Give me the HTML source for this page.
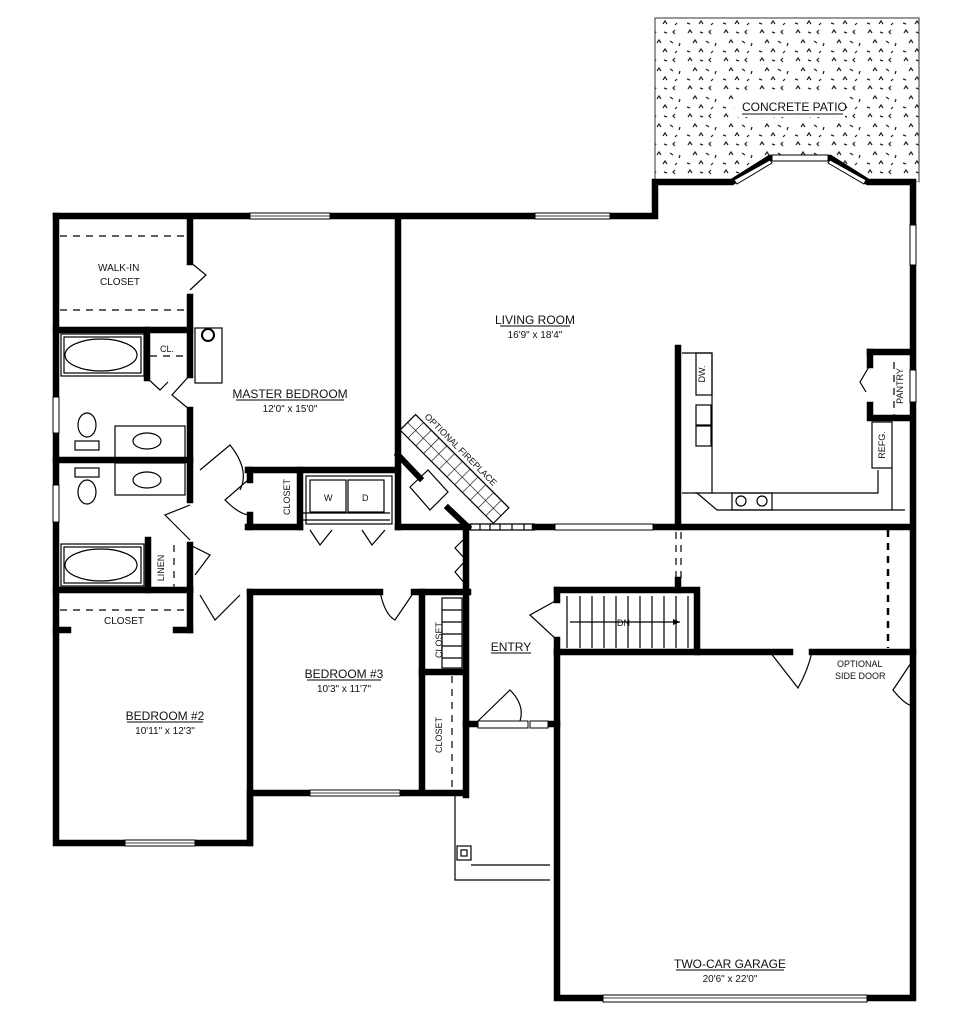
<!DOCTYPE html>
<html><head><meta charset="utf-8"><style>
html,body{margin:0;padding:0;background:#fff;}
svg{display:block;}
text{font-family:"Liberation Sans",sans-serif;fill:#111;}
</style></head><body>
<svg width="970" height="1024" viewBox="0 0 970 1024" xmlns="http://www.w3.org/2000/svg">
<defs>
<pattern id="st" width="36" height="28" patternUnits="userSpaceOnUse">
<g fill="none" stroke="#222" stroke-width="1.2">
<path d="M4 5 l2 -3 l2 3"/><path d="M16 4 l3 1"/><path d="M27 6 l-2 -2 l2 -2"/>
<path d="M9 15 l2 -3 l2 3"/><path d="M22 13 l3 2"/><path d="M31 18 l1 -3"/>
<path d="M3 23 l3 1"/><path d="M15 24 l2 -3 l2 3"/><path d="M27 25 l2 -2"/>
</g></pattern>
<pattern id="tile" width="11" height="11" patternUnits="userSpaceOnUse">
<path d="M0 0 H11 M0 0 V11" stroke="#000" stroke-width="1.2" fill="none"/>
</pattern>
</defs>

<!-- patio -->
<rect x="655" y="18" width="264" height="164" fill="url(#st)" stroke="#555" stroke-width="1.2"/>
<path d="M655 182 H732 L770 158 H830 L868 182 H919 V190 H655Z" fill="#fff"/>
<rect x="735" y="95" width="110" height="22" fill="#fff"/>
<text x="742" y="111" font-size="12">CONCRETE PATIO</text>
<line x1="742" y1="114" x2="843" y2="114" stroke="#111"/>

<!-- fireplace band -->
<g transform="translate(400,430) rotate(45)">
<rect x="0" y="-22" width="132" height="22" fill="url(#tile)" stroke="#000" stroke-width="1.2"/>
<text x="8" y="-26" font-size="9">OPTIONAL FIREPLACE</text>
</g>
<path d="M410 487 L428 470 L448 492 L430 510 Z" fill="#fff" stroke="#000" stroke-width="1.2"/>

<g stroke="#000" stroke-width="6.5" fill="none" stroke-linecap="square" stroke-linejoin="miter">
<!-- exterior -->
<path d="M56 216 H655 V182 H732 L770 158 H830 L868 182 H913 V998 H557 V652"/>
<path d="M56 216 V843 H250 V793 H462"/>
<path d="M466 527 V795"/>
<!-- master -->
<path d="M190 222 V262"/><path d="M190 297 V375"/><path d="M190 410 V500"/><path d="M190 545 V590"/>
<path d="M398 222 V527"/>
<path d="M248 470 H398"/>
<path d="M56 330 H190"/>
<path d="M147 330 V378"/>
<path d="M56 460 H190"/>
<path d="M148 540 V590"/>
<path d="M56 590 H190"/>
<path d="M190 590 V630"/>
<path d="M56 630 H68"/><path d="M176 630 H190"/>
<path d="M250 470 V480"/><path d="M250 515 V527"/>
<path d="M300 470 V527"/>
<path d="M248 527 H300"/>
<path d="M398 527 H468"/>
<!-- hall bottom / bedroom 3 -->
<path d="M250 592 H380"/><path d="M414 592 H468"/>
<path d="M250 592 V843"/>
<path d="M422 592 V790"/>
<path d="M422 672 H462"/>
<!-- fireplace walls -->
<path d="M398 455 L420 478" stroke-width="6"/>
<path d="M448 508 L468 527" stroke-width="6"/>
<!-- living bottom -->
<path d="M535 527 H555"/><path d="M653 527 H910"/>
<path d="M678 348 V527"/>
<path d="M678 580 V590"/>
<!-- stairs -->
<path d="M557 590 H697 V652"/>
<path d="M557 590 V600"/><path d="M557 640 V652"/>
<path d="M557 652 H790"/><path d="M812 652 H913"/>
<!-- entry bottom -->
<path d="M466 724 H478"/><path d="M548 724 H557"/>
<!-- pantry -->
<path d="M870 352 H908"/><path d="M870 352 V365"/><path d="M870 405 V418 H908"/>
</g>

<!-- windows -->
<g fill="#fff" stroke="#000" stroke-width="1">
<rect x="250" y="213" width="80" height="6"/><rect x="535" y="213" width="75" height="6"/>
<rect x="53" y="397" width="6" height="36"/><rect x="53" y="485" width="6" height="37"/>
<rect x="125" y="840" width="70" height="6"/><rect x="310" y="790" width="90" height="6"/>
<rect x="910" y="225" width="6" height="40"/><rect x="910" y="370" width="6" height="32"/>
<rect x="555" y="524" width="98" height="6"/>
<rect x="603" y="995" width="264" height="7"/>
<rect x="478" y="721" width="50" height="7"/><rect x="530" y="721" width="18" height="7"/>
<path d="M734 180 L770 160 L772 163 L737 184Z"/><rect x="772" y="155" width="56" height="6"/>
<path d="M830 160 L866 180 L864 184 L828 163Z"/>
</g>
<g stroke="#000" stroke-width="0.8">
<line x1="250" y1="216" x2="330" y2="216"/><line x1="535" y1="216" x2="610" y2="216"/>
<line x1="125" y1="843" x2="195" y2="843"/><line x1="310" y1="793" x2="400" y2="793"/>
<line x1="603" y1="998" x2="867" y2="998"/>
</g>

<!-- dashed lines -->
<g stroke="#000" stroke-width="1.2" stroke-dasharray="7,6" fill="none">
<line x1="60" y1="236" x2="186" y2="236"/><line x1="60" y1="310" x2="186" y2="310"/>
<line x1="150" y1="356" x2="186" y2="356"/>
<line x1="174" y1="545" x2="174" y2="588"/>
<line x1="60" y1="610" x2="186" y2="610"/>
<line x1="452" y1="676" x2="452" y2="788"/>
<line x1="888" y1="530" x2="888" y2="648" stroke-width="2.5"/>
<line x1="676" y1="532" x2="676" y2="578"/><line x1="681" y1="532" x2="681" y2="578"/>
<line x1="894" y1="362" x2="894" y2="416"/>
</g>

<!-- fixtures -->
<g fill="none" stroke="#000" stroke-width="1.2">
<rect x="61" y="334" width="83" height="42"/><rect x="64" y="337" width="77" height="36"/>
<ellipse cx="101" cy="355" rx="36" ry="16"/>
<rect x="61" y="544" width="83" height="42"/><rect x="64" y="547" width="77" height="36"/>
<ellipse cx="101" cy="565" rx="36" ry="16"/>
<rect x="115" y="426" width="70" height="32"/><ellipse cx="147" cy="441" rx="14" ry="8"/>
<rect x="115" y="463" width="70" height="32"/><ellipse cx="147" cy="480" rx="14" ry="8"/>
<ellipse cx="87" cy="425" rx="9" ry="12"/><rect x="75" y="441" width="24" height="9"/>
<ellipse cx="87" cy="492" rx="9" ry="12"/><rect x="75" y="468" width="24" height="9"/>
<rect x="195" y="328" width="27" height="55"/>
<circle cx="208" cy="335" r="6" stroke-width="2"/>
<!-- laundry -->
<rect x="306" y="476" width="86" height="48"/>
<rect x="310" y="480" width="36" height="32"/><rect x="348" y="480" width="36" height="32"/>
<path d="M300 513 H390 M300 520 H390"/>
<path d="M470 524 H535 M470 530 H535 M480 524V530 M490 524V530 M500 524V530 M512 524V530 M524 524V530"/>
<rect x="442" y="598" width="20" height="70"/>
<path d="M442 610H462 M442 622H462 M442 634H462 M442 646H462 M442 658H462"/>
<!-- stairs -->
<path d="M567 596 V648 M580 596 V648 M592 596 V648 M604 596 V648 M616 596 V648 M628 596 V648 M640 596 V648 M652 596 V648 M664 596 V648 M676 596 V648 M688 596 V648"/>
<line x1="570" y1="622" x2="680" y2="622"/>
<!-- kitchen -->
<path d="M682 353 H712 V493 H878 V470 M712 493 L695 493"/>
<path d="M682 493 H697 L717 510 H905"/>
<rect x="696" y="353" width="16" height="42"/>
<rect x="696" y="405" width="15" height="20"/><rect x="696" y="426" width="15" height="20"/>
<rect x="732" y="493" width="40" height="17"/><circle cx="741" cy="501" r="5"/><circle cx="762" cy="501" r="5"/>
<rect x="872" y="422" width="20" height="46"/>
<path d="M892 468 V510"/>
<rect x="457" y="846" width="14" height="14"/><rect x="461" y="850" width="6" height="6"/>
<path d="M455 795 V880 H550 M471 865 H550"/>
<!-- doors -->
<path d="M190 262 L206 275 L190 290"/>
<path d="M190 375 L172 395 L190 410"/>
<path d="M147 378 L160 390 L168 382"/>
<path d="M200 470 L230 445 Q250 470 240 490"/>
<path d="M190 505 L165 515 L190 540"/>
<path d="M248 480 L225 500 Q240 515 250 515"/>
<path d="M310 530 L320 545 L332 530 M362 530 L372 545 L385 530"/>
<path d="M468 535 L455 548 L466 560 L455 572 L466 585"/>
<path d="M190 545 L210 555 L195 575"/>
<path d="M200 595 L215 620 L240 595"/>
<path d="M380 592 Q385 615 395 620 L414 592"/>
<path d="M557 600 L530 615 L557 640"/>
<path d="M478 721 L510 690 Q525 705 520 721"/>
<path d="M770 652 L798 688 Q808 670 812 652"/>
<path d="M913 660 L893 690 Q905 705 913 706"/>
<path d="M870 365 L860 382 L866 392"/>
</g>
<polygon points="673,619 680,622 673,625" fill="#000"/>

<!-- labels -->
<g font-size="10">
<text x="98" y="271">WALK-IN</text><text x="100" y="285">CLOSET</text>
<text x="160" y="352" font-size="9">CL.</text>
<text x="164" y="568" transform="rotate(-90 164 568)" font-size="9" text-anchor="middle">LINEN</text>
<text x="104" y="624">CLOSET</text>
<text x="290" y="497" transform="rotate(-90 290 497)" font-size="9" text-anchor="middle">CLOSET</text>
<text x="324" y="501" font-size="9">W</text><text x="362" y="501" font-size="9">D</text>
<text x="442" y="640" transform="rotate(-90 442 640)" font-size="9" text-anchor="middle">CLOSET</text>
<text x="442" y="735" transform="rotate(-90 442 735)" font-size="9" text-anchor="middle">CLOSET</text>
<text x="705" y="374" transform="rotate(-90 705 374)" font-size="9" text-anchor="middle">DW.</text>
<text x="903" y="386" transform="rotate(-90 903 386)" font-size="9" text-anchor="middle">PANTRY</text>
<text x="885" y="445" transform="rotate(-90 885 445)" font-size="9" text-anchor="middle">REFG.</text>
<text x="617" y="626" font-size="9">DN</text>
<text x="837" y="667" font-size="9">OPTIONAL</text><text x="835" y="679" font-size="9">SIDE DOOR</text>
</g>
<g font-size="12" text-anchor="middle">
<text x="290" y="398">MASTER BEDROOM</text><text x="290" y="412" font-size="10">12'0" x 15'0"</text>
<text x="535" y="324">LIVING ROOM</text><text x="535" y="338" font-size="10">16'9" x 18'4"</text>
<text x="165" y="720">BEDROOM #2</text><text x="165" y="734" font-size="10">10'11" x 12'3"</text>
<text x="344" y="678">BEDROOM #3</text><text x="344" y="692" font-size="10">10'3" x 11'7"</text>
<text x="511" y="651">ENTRY</text>
<text x="730" y="968">TWO-CAR GARAGE</text><text x="730" y="982" font-size="10">20'6" x 22'0"</text>
</g>
<g stroke="#000" stroke-width="1">
<line x1="236" y1="400" x2="344" y2="400"/><line x1="500" y1="326" x2="570" y2="326"/>
<line x1="127" y1="722" x2="203" y2="722"/><line x1="307" y1="680" x2="381" y2="680"/>
<line x1="491" y1="653" x2="531" y2="653"/><line x1="676" y1="970" x2="784" y2="970"/>
</g>
</svg>
</body></html>
